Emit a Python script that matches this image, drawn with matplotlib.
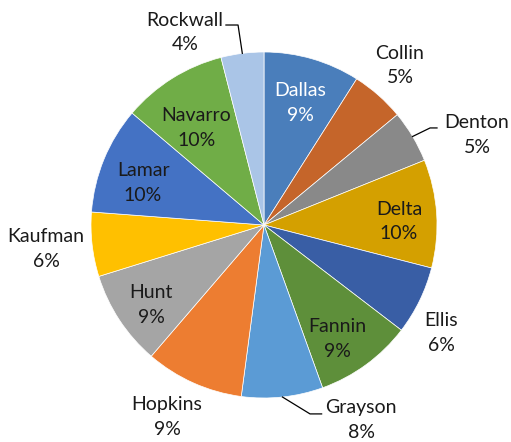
import matplotlib.pyplot as plt
import numpy as np

counties = ["Dallas", "Collin", "Denton", "Delta", "Ellis", "Fannin", "Grayson",
            "Hopkins", "Hunt", "Kaufman", "Lamar", "Navarro", "Rockwall"]
shares = [9.0, 5.0, 4.9, 10.1, 6.4, 9.1, 7.6, 9.2, 8.9, 6.0, 10.0, 9.8, 4.0]
colors = ["#4a7ebb", "#c5652a", "#898989", "#d4a000", "#395ea5", "#5e8f3a", "#5b9bd5",
          "#ed7d31", "#a5a5a5", "#ffc000", "#4472c4", "#70ad47", "#aac5e7"]

# label centres in axes units (pie radius = 1)
label_pos = [(0.208, 0.705), (0.786, 0.922), (1.231, 0.520), (0.780, 0.020),
             (1.023, -0.624), (0.422, -0.659), (0.561, -1.127), (-0.561, -1.110),
             (-0.653, -0.462), (-1.260, -0.139), (-0.699, 0.243), (-0.390, 0.561),
             (-0.457, 1.113)]
# leader lines: elbow and end point for labels placed outside
leaders = {"Rockwall": [(-0.150, 1.156), (-0.220, 1.156)],
           "Denton": [(0.960, 0.561), (1.000, 0.561)],
           "Grayson": [(0.266, -1.092), (0.333, -1.092)]}

plt.rcParams['font.family'] = ['Lato', 'DejaVu Sans']

fig = plt.figure(figsize=(5.11, 4.42), dpi=100)
ax = fig.add_axes([0, 0, 1, 1])
r = 173
cx, cy = 264, 225

wedges, _ = ax.pie(shares, colors=colors, startangle=90, counterclock=False,
                   radius=1, center=(0, 0), frame=True,
                   wedgeprops=dict(edgecolor='white', linewidth=0.5))
ax.set_xlim(-cx / r, (511 - cx) / r)
ax.set_ylim(-(442 - cy) / r, cy / r)
ax.set_aspect('equal')
ax.axis('off')

for w, name, val, (lx, ly) in zip(wedges, counties, shares, label_pos):
    col = 'white' if name == "Dallas" else '#1a1a1a'
    ax.text(lx, ly, f"{name}\n{val:.0f}%", ha='center', va='center',
            fontsize=14, color=col, linespacing=1.55)
    if name in leaders:
        mid = np.deg2rad((w.theta1 + w.theta2) / 2)
        pts = [(np.cos(mid), np.sin(mid))] + leaders[name]
        xs, ys = zip(*pts)
        ax.plot(xs, ys, color='black', linewidth=0.9)

fig.savefig("out.png", dpi=100)
